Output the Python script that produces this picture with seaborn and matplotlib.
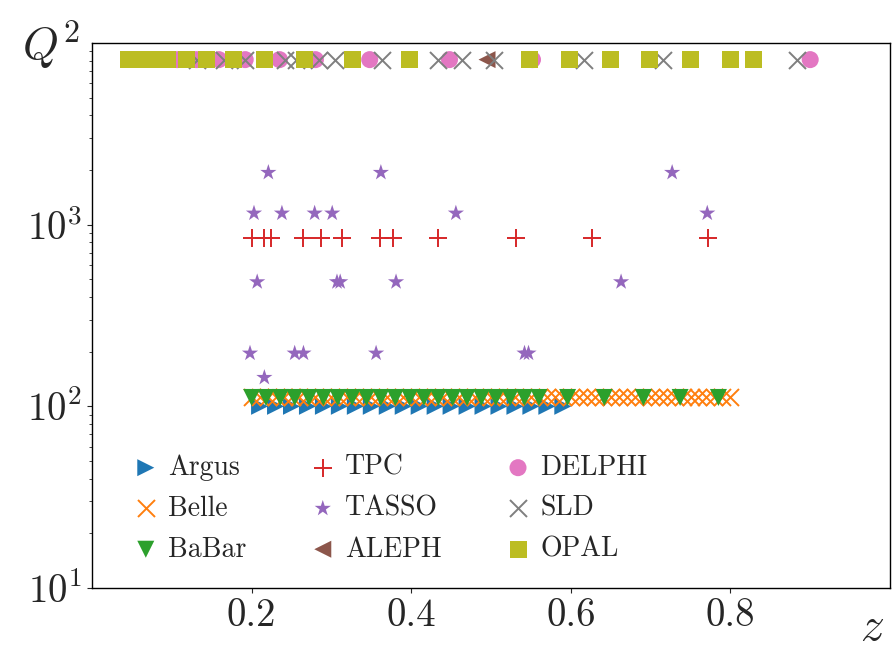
import numpy as np
import pandas as pd
import matplotlib
matplotlib.use("Agg")
import matplotlib.pyplot as plt
import seaborn as sns

# ---------------- data ----------------
experiments = ["Argus", "Belle", "BaBar", "TPC", "TASSO", "ALEPH", "DELPHI", "SLD", "OPAL"]
markers = [">", "x", "v", "+", "*", "<", "o", "x", "s"]

argus_z = [0.21, 0.23, 0.25, 0.27, 0.29, 0.31, 0.33, 0.35, 0.37, 0.39,
           0.41, 0.43, 0.45, 0.47, 0.49, 0.51, 0.53, 0.55, 0.57, 0.59]
argus_q2 = 100.0

belle_z = [0.20, 0.21, 0.22, 0.23, 0.24, 0.25, 0.26, 0.27, 0.28, 0.29,
           0.30, 0.31, 0.32, 0.33, 0.34, 0.35, 0.36, 0.37, 0.38, 0.39,
           0.40, 0.41, 0.42, 0.43, 0.44, 0.45, 0.46, 0.47, 0.48, 0.49,
           0.50, 0.51, 0.52, 0.53, 0.54, 0.55, 0.56, 0.57, 0.58, 0.59,
           0.60, 0.61, 0.62, 0.63, 0.64, 0.65, 0.66, 0.67, 0.68, 0.69,
           0.70, 0.71, 0.72, 0.73, 0.74, 0.75, 0.76, 0.77, 0.78, 0.79, 0.80]
belle_q2 = 111.9

babar_z = [0.200, 0.218, 0.236, 0.254, 0.272, 0.290, 0.308, 0.326, 0.344, 0.362,
           0.380, 0.398, 0.416, 0.434, 0.452, 0.470, 0.488, 0.506, 0.524, 0.542,
           0.560, 0.596, 0.642, 0.691, 0.737, 0.785]
babar_q2 = 111.9

tpc_z = [0.200, 0.216, 0.224, 0.265, 0.287, 0.313, 0.361, 0.377, 0.434, 0.531, 0.627, 0.772]
tpc_q2 = 841.0

tasso_z = [0.221, 0.362, 0.727,
           0.203, 0.238, 0.279, 0.301, 0.456, 0.771,
           0.207, 0.307, 0.311, 0.381, 0.663,
           0.198, 0.254, 0.265, 0.356, 0.542, 0.547,
           0.216]
tasso_q2 = [1936, 1936, 1936,
            1156, 1156, 1156, 1156, 1156, 1156,
            484, 484, 484, 484, 484,
            196, 196, 196, 196, 196, 196,
            144]

aleph_z = [0.495]
delphi_z = [0.107, 0.131, 0.159, 0.192, 0.235, 0.280, 0.348, 0.448, 0.552, 0.900]
sld_z = [0.132, 0.165, 0.192, 0.242, 0.256, 0.284, 0.304, 0.364, 0.433, 0.464,
         0.504, 0.616, 0.716, 0.884]
opal_z = [0.046, 0.055, 0.065, 0.075, 0.085, 0.095, 0.118, 0.144, 0.177, 0.216,
          0.266, 0.327, 0.398, 0.548, 0.598, 0.650, 0.699, 0.750, 0.800, 0.829]
lep_q2 = 8100.0

series = {
    "Argus": (argus_z, [argus_q2] * len(argus_z)),
    "Belle": (belle_z, [belle_q2] * len(belle_z)),
    "BaBar": (babar_z, [babar_q2] * len(babar_z)),
    "TPC": (tpc_z, [tpc_q2] * len(tpc_z)),
    "TASSO": (tasso_z, tasso_q2),
    "ALEPH": (aleph_z, [lep_q2] * len(aleph_z)),
    "DELPHI": (delphi_z, [lep_q2] * len(delphi_z)),
    "SLD": (sld_z, [lep_q2] * len(sld_z)),
    "OPAL": (opal_z, [lep_q2] * len(opal_z)),
}

rows = []
for name in experiments:
    zs, qs = series[name]
    for zv, qv in zip(zs, qs):
        rows.append({"exp": name, "z": zv, "Q2": qv})
df = pd.DataFrame(rows)

# ---------------- style ----------------
sns.set_style("ticks")
plt.rcParams["font.family"] = "serif"
plt.rcParams["font.serif"] = ["cmr10", "DejaVu Serif"]
plt.rcParams["mathtext.fontset"] = "cm"
plt.rcParams["axes.formatter.use_mathtext"] = True
plt.rcParams["axes.unicode_minus"] = False

palette = sns.color_palette("tab10")

fig = plt.figure(figsize=(8.92, 6.48), dpi=100)
ax = fig.add_axes([92 / 892, 60 / 648, 798 / 892, 545 / 648])

for i, name in enumerate(experiments):
    sub = df[df["exp"] == name]
    m = markers[i]
    filled = m not in ("x", "+")
    kw = dict(x="z", y="Q2", data=sub, ax=ax, marker=m, color=palette[i],
              s=150, label=name)
    if filled:
        kw.update(edgecolor="none", linewidth=0)
    else:
        kw.update(linewidth=1.4)
    sns.scatterplot(**kw)

ax.set_yscale("log")
ax.set_xlim(0, 1)
ax.set_ylim(10, 1e4)
ax.set_xticks([0.2, 0.4, 0.6, 0.8])
ax.set_xticklabels(["0.2", "0.4", "0.6", "0.8"])
ax.set_yticks([10, 100, 1000])
ax.tick_params(axis="both", which="major", labelsize=28)
ax.set_xlabel("")
ax.set_ylabel("")
for sp in ax.spines.values():
    sp.set_color("black")
    sp.set_linewidth(1.0)

fig.text(22 / 892, 1 - 60 / 648, "$Q^2$", fontsize=33, ha="left", va="baseline")
fig.text(860 / 892, 1 - 640 / 648, "$z$", fontsize=34, ha="left", va="baseline")

leg = ax.legend(loc="upper left", bbox_to_anchor=(0.050, 0.245), ncol=3,
                frameon=False, fontsize=20, handlelength=1.0, handletextpad=0.3,
                columnspacing=2.25, labelspacing=0.52, borderaxespad=0,
                borderpad=0)

fig.savefig("out.png", dpi=100)
